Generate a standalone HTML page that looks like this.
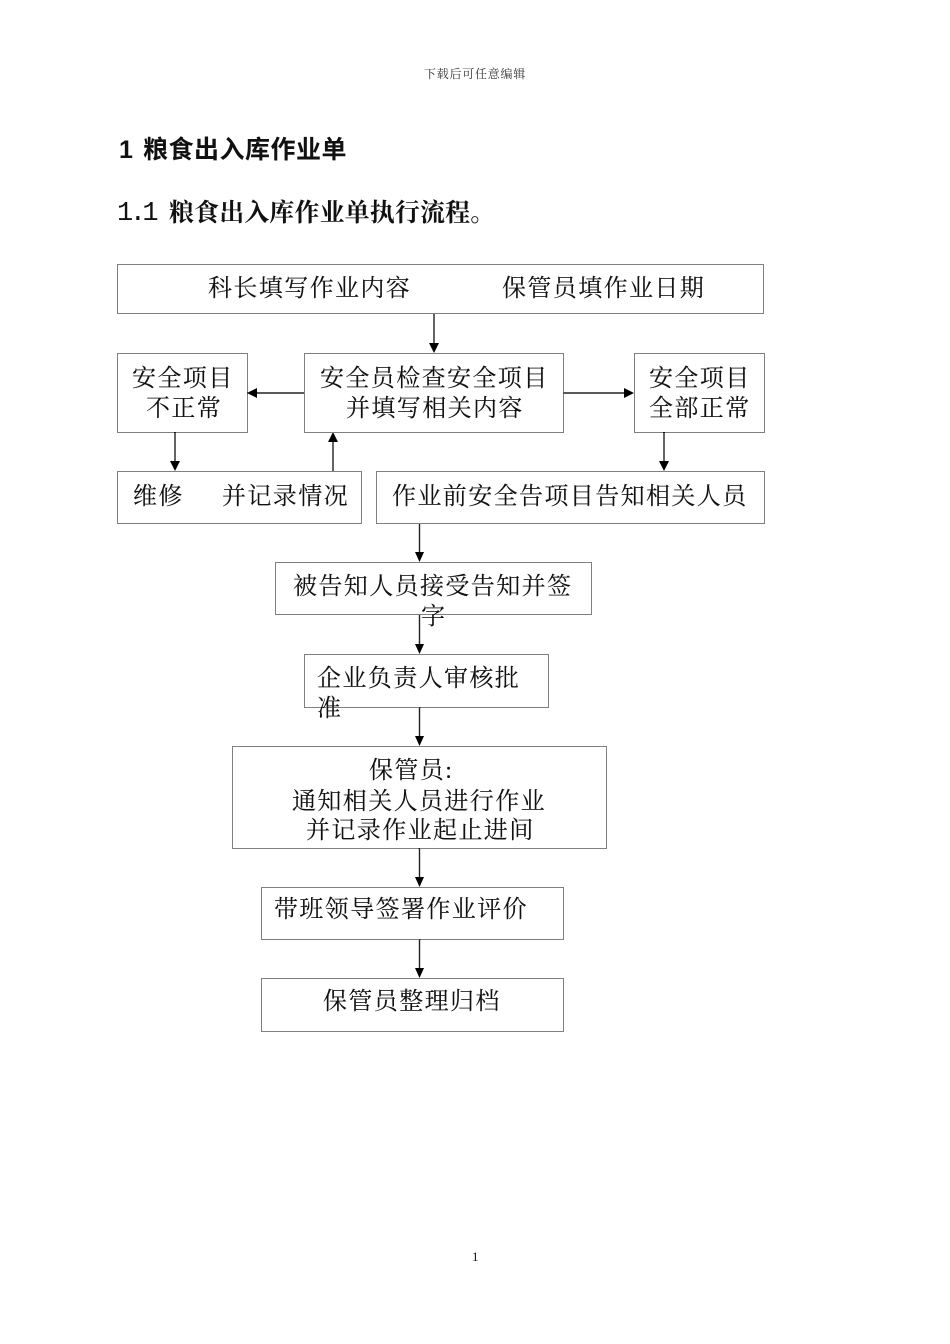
<!DOCTYPE html>
<html lang="zh"><head><meta charset="utf-8"><style>
html,body{margin:0;padding:0;background:#fff}
svg{display:block}
text{fill:#111;white-space:pre}
.t{font-family:"Liberation Serif","Noto Serif CJK SC",serif;font-size:24px;letter-spacing:1.4px;stroke:#111;stroke-width:.1px}
.b{fill:none;stroke:#000;stroke-width:1;stroke-dasharray:1 1;shape-rendering:crispEdges}
.l{stroke:#222;stroke-width:1.4}
.a{fill:#000}
</style></head><body>
<svg width="950" height="1344" viewBox="0 0 950 1344" xmlns="http://www.w3.org/2000/svg">
<rect width="950" height="1344" fill="#fff"/>
<text x="424" y="78" style="font-family:'Noto Serif CJK SC',serif;font-size:12px;letter-spacing:.75px;fill:#333">下载后可任意编辑</text>
<text x="119" y="158" style="font-family:'Liberation Sans','Noto Sans CJK SC',sans-serif;font-size:25px;font-weight:700">1</text>
<text x="143" y="158" style="font-family:'Noto Sans CJK SC',sans-serif;font-size:25px;font-weight:700;letter-spacing:.5px">粮食出入库作业单</text>
<text x="117" y="220" style="font-family:'Liberation Mono',monospace;font-size:27px;letter-spacing:-3.5px">1.1</text>
<text x="169" y="221" style="font-family:'Noto Serif CJK SC',serif;font-size:25px;font-weight:700;letter-spacing:.1px">粮食出入库作业单执行流程。</text>

<rect class="b" x="117.5" y="264.5" width="646" height="49"/>
<rect class="b" x="117.5" y="353.5" width="130" height="79"/>
<rect class="b" x="304.5" y="353.5" width="259" height="79"/>
<rect class="b" x="634.5" y="353.5" width="130" height="79"/>
<rect class="b" x="117.5" y="471.5" width="244" height="52"/>
<rect class="b" x="376.5" y="471.5" width="388" height="52"/>
<rect class="b" x="275.5" y="562.5" width="316" height="52"/>
<rect class="b" x="304.5" y="654.5" width="244" height="53"/>
<rect class="b" x="232.5" y="746.5" width="374" height="102"/>
<rect class="b" x="261.5" y="887.5" width="302" height="52"/>
<rect class="b" x="261.5" y="978.5" width="302" height="53"/>

<text class="t" x="208" y="296">科长填写作业内容</text>
<text class="t" x="502" y="296">保管员填作业日期</text>
<text class="t" x="132" y="386">安全项目</text>
<text class="t" x="146" y="416">不正常</text>
<text class="t" x="320" y="386">安全员检查安全项目</text>
<text class="t" x="346" y="416">并填写相关内容</text>
<text class="t" x="649" y="386">安全项目</text>
<text class="t" x="649" y="416">全部正常</text>
<text class="t" x="133" y="504">维修</text>
<text class="t" x="222" y="504">并记录情况</text>
<text class="t" x="392" y="504">作业前安全告项目告知相关人员</text>
<text class="t" x="293" y="594">被告知人员接受告知并签</text>
<text class="t" x="421" y="624">字</text>
<text class="t" x="317" y="686">企业负责人审核批</text>
<text class="t" x="317" y="716">准</text>
<text class="t" x="369" y="778">保管员:</text>
<text class="t" x="292" y="809">通知相关人员进行作业</text>
<text class="t" x="306" y="838">并记录作业起止进间</text>
<text class="t" x="274" y="917">带班领导签署作业评价</text>
<text class="t" x="323" y="1009">保管员整理归档</text>

<line class="l" x1="434" y1="314" x2="434" y2="344"/><polygon class="a" points="429,343 439,343 434,353"/>
<line class="l" x1="304" y1="393" x2="256" y2="393"/><polygon class="a" points="247,393 257,388 257,398"/>
<line class="l" x1="563" y1="393" x2="625" y2="393"/><polygon class="a" points="634,393 624,388 624,398"/>
<line class="l" x1="175" y1="432" x2="175" y2="462"/><polygon class="a" points="170,461 180,461 175,471"/>
<line class="l" x1="333" y1="471" x2="333" y2="441"/><polygon class="a" points="328,442 338,442 333,432"/>
<line class="l" x1="664" y1="432" x2="664" y2="462"/><polygon class="a" points="659,461 669,461 664,471"/>
<line class="l" x1="419.5" y1="524" x2="419.5" y2="553"/><polygon class="a" points="415,552 424,552 419.5,562"/>
<line class="l" x1="419.5" y1="615" x2="419.5" y2="645"/><polygon class="a" points="415,644 424,644 419.5,654"/>
<line class="l" x1="419.5" y1="707" x2="419.5" y2="737"/><polygon class="a" points="415,736 424,736 419.5,746"/>
<line class="l" x1="419.5" y1="848" x2="419.5" y2="878"/><polygon class="a" points="415,877 424,877 419.5,887"/>
<line class="l" x1="419.5" y1="939" x2="419.5" y2="969"/><polygon class="a" points="415,968 424,968 419.5,978"/>

<text x="472" y="1261" style="font-family:'Liberation Serif',serif;font-size:13px">1</text>
</svg>
</body></html>
